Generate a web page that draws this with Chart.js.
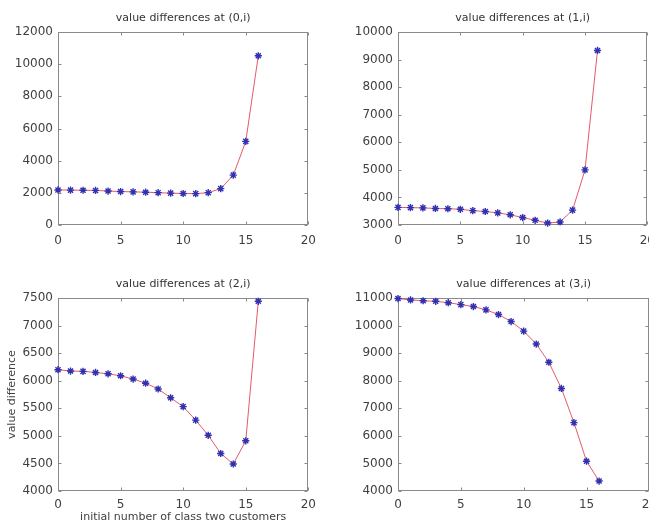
<!DOCTYPE html>
<html><head><meta charset="utf-8">
<script src="https://cdn.jsdelivr.net/npm/chart.js@4.4.0/dist/chart.umd.min.js"></script>
<style>
html,body{margin:0;padding:0;background:#fff;}
body{width:649px;height:526px;position:relative;overflow:hidden;}
.box{position:absolute;}
</style></head><body>
<div class="box" style="left:0px;top:0px;width:325px;height:245px"><canvas id="c0"></canvas></div>
<div class="box" style="left:340px;top:0px;width:324px;height:245px"><canvas id="c1"></canvas></div>
<div class="box" style="left:0px;top:260px;width:323px;height:266px"><canvas id="c2"></canvas></div>
<div class="box" style="left:340px;top:260px;width:324px;height:266px"><canvas id="c3"></canvas></div>
<script>
// ---- data ----
const xValues = [0,1,2,3,4,5,6,7,8,9,10,11,12,13,14,15,16];
const diff0 = [2180,2170,2160,2150,2110,2080,2060,2040,2010,1980,1960,1950,2010,2260,3100,5200,10520];
const diff1 = [3640,3630,3620,3600,3590,3570,3520,3490,3440,3370,3270,3170,3070,3110,3540,5000,9330];
const diff2 = [6200,6175,6170,6150,6125,6090,6030,5955,5850,5690,5530,5285,5010,4680,4490,4910,7440];
const diff3 = [10980,10930,10900,10880,10830,10760,10690,10570,10400,10145,9800,9330,8670,7720,6480,5080,4360];
const titles = ['value differences at (0,i)','value differences at (1,i)','value differences at (2,i)','value differences at (3,i)'];
const xTicks = [0,5,10,15,20];
const yTicks0 = [0,2000,4000,6000,8000,10000,12000];
const yTicks1 = [3000,4000,5000,6000,7000,8000,9000,10000];
const yTicks2 = [4000,4500,5000,5500,6000,6500,7000,7500];
const yTicks3 = [4000,5000,6000,7000,8000,9000,10000,11000];
const xTitle = 'initial number of class two customers';
const yTitle = 'value difference';

// ---- MATLAB-like box with inward ticks, and axes title centred over the box ----
const boxPlugin = {
  id: 'mbox',
  beforeDatasetsDraw(chart, args, opts) {
    const {ctx, chartArea: a, scales: {x, y}} = chart;
    const L = Math.round(a.left) + 0.5, R = Math.round(a.right) - 0.5;
    const T = Math.round(a.top) + 0.5, B = Math.round(a.bottom) - 0.5;
    ctx.save();
    ctx.strokeStyle = '#8a8a8a';
    ctx.lineWidth = 1;
    ctx.strokeRect(L, T, R - L, B - T);
    const tl = 3;
    ctx.beginPath();
    x.ticks.forEach(t => {
      const px = Math.round(x.getPixelForValue(t.value)) + 0.5;
      ctx.moveTo(px, B); ctx.lineTo(px, B - tl);
      ctx.moveTo(px, T); ctx.lineTo(px, T + tl);
    });
    y.ticks.forEach(t => {
      const py = Math.round(y.getPixelForValue(t.value)) + 0.5;
      ctx.moveTo(L, py); ctx.lineTo(L + tl, py);
      ctx.moveTo(R, py); ctx.lineTo(R - tl, py);
    });
    ctx.stroke();
    // axes title
    ctx.fillStyle = '#333';
    ctx.font = '11px "DejaVu Sans"';
    ctx.textAlign = 'center';
    ctx.textBaseline = 'middle';
    ctx.fillText(opts.text, (a.left + a.right) / 2, a.top - opts.gap);
    ctx.restore();
  }
};

function makeChart(id, data, title, yTicks, bottomRow, showAxisTitles) {
  const tickFont = {family: 'DejaVu Sans', size: 12};
  new Chart(document.getElementById(id), {
    type: 'line',
    data: {
      labels: xValues,
      datasets: [{
        data: xValues.map((v, i) => ({x: v, y: data[i]})),
        borderColor: 'rgba(225,60,80,0.85)',
        borderWidth: 1,
        tension: 0,
        fill: false,
        pointStyle: 'star',
        pointRadius: 3.6,
        pointBorderWidth: 1.4,
        pointBorderColor: '#3030b0',
        pointBackgroundColor: '#3030b0',
        clip: false
      }]
    },
    options: {
      responsive: true,
      maintainAspectRatio: false,
      animation: false,
      layout: {padding: {left: 0, right: 2, top: bottomRow ? 38 : 32, bottom: 0}},
      plugins: {
        legend: {display: false},
        tooltip: {enabled: false},
        title: {display: false},
        mbox: {text: title, gap: 14}
      },
      scales: {
        x: {
          type: 'linear',
          min: 0, max: 20,
          grid: {display: false, drawTicks: false},
          border: {display: false},
          afterBuildTicks: s => { s.ticks = xTicks.map(v => ({value: v})); },
          afterFit: s => { s.height = bottomRow ? 35 : 20; },
          ticks: {
            color: '#404040', font: tickFont, padding: bottomRow ? 7 : 9,
            maxRotation: 0, autoSkip: false,
            callback: v => String(v)
          },
          title: {
            display: showAxisTitles,
            text: xTitle,
            color: '#404040',
            font: {family: 'DejaVu Sans', size: 11},
            padding: {top: 0, bottom: 2}
          }
        },
        y: {
          type: 'linear',
          min: yTicks[0], max: yTicks[yTicks.length - 1],
          grid: {display: false, drawTicks: false},
          border: {display: false},
          afterBuildTicks: s => { s.ticks = yTicks.map(v => ({value: v})); },
          afterFit: s => { s.width = 58; },
          ticks: {
            color: '#404040', font: tickFont, padding: 5, autoSkip: false,
            callback: v => String(v)
          },
          title: {
            display: showAxisTitles,
            text: yTitle,
            color: '#404040',
            font: {family: 'DejaVu Sans', size: 11},
            padding: {top: 6, bottom: 0}
          }
        }
      }
    },
    plugins: [boxPlugin]
  });
}

makeChart('c0', diff0, titles[0], yTicks0, false, false);
makeChart('c1', diff1, titles[1], yTicks1, false, false);
makeChart('c2', diff2, titles[2], yTicks2, true, true);
makeChart('c3', diff3, titles[3], yTicks3, true, false);
</script>
</body></html>
